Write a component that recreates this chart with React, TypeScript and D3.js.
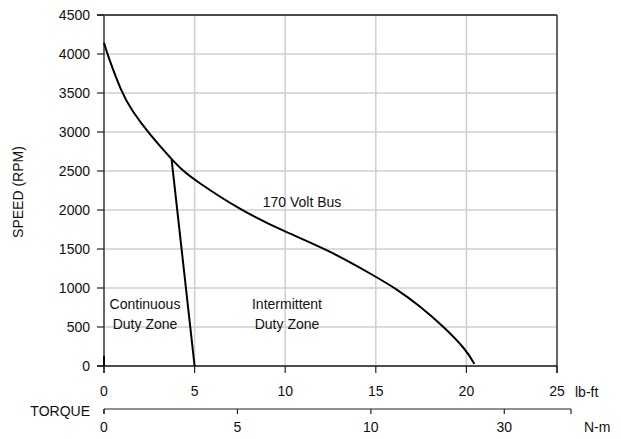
import React from "react";
import * as d3 from "d3";

const speedTicks = [0, 500, 1000, 1500, 2000, 2500, 3000, 3500, 4000, 4500];
const lbftTicks = [0, 5, 10, 15, 20, 25];
const nmTicks = [0, 10, 20, 30];
const nmTickLabels = ["0", "5", "10", "30"];

const curveTorque = [0, 0.18, 0.98, 1.52, 2.44, 3.73, 4.37, 5, 7.5, 10, 12.47, 15, 16.06, 17.44, 18.76, 20, 20.44];
const curveSpeed = [4145, 4000, 3500, 3282, 2990, 2650, 2500, 2385, 2000, 1718, 1478, 1145, 1000, 769, 500, 205, 26];

const contTorque = [3.73, 5.0];
const contSpeed = [2650, 0];

const W = 621, H = 439;
const L = 104, R = 557, T = 15, B = 366;
const FONT = "'Liberation Sans', Arial, sans-serif";

export default function App() {
  const x = d3.scaleLinear().domain([0, 25]).range([L, R]);
  const y = d3.scaleLinear().domain([0, 4500]).range([B, T]);
  const xn = d3.scaleLinear().domain([0, 35]).range([L, 571]);
  const nmY = 409;

  const pts: [number, number][] = curveTorque.map((t, i) => [t, curveSpeed[i]]);
  const line = d3.line<[number, number]>().x(d => x(d[0])).y(d => y(d[1])).curve(d3.curveBasis);
  const cont: [number, number][] = contTorque.map((t, i) => [t, contSpeed[i]]);
  const line2 = d3.line<[number, number]>().x(d => x(d[0])).y(d => y(d[1]));

  return (
    <svg width={W} height={H} style={{ position: "absolute", left: 0, top: 0, background: "#fff" }} fontFamily={FONT} fontSize={14}>
      <rect x={0} y={0} width={W} height={H} fill="#fff" />
      {speedTicks.slice(1, -1).map(v => (
        <line key={"gy" + v} x1={L} x2={R} y1={y(v)} y2={y(v)} stroke="#cfcfcf" strokeWidth={1.5} />
      ))}
      {lbftTicks.slice(1, -1).map(v => (
        <line key={"gx" + v} x1={x(v)} x2={x(v)} y1={T} y2={B} stroke="#cfcfcf" strokeWidth={1.5} />
      ))}
      <line x1={L - 7} x2={R} y1={T} y2={T} stroke="#111" strokeWidth={1.5} />
      <line x1={L} x2={L} y1={T} y2={B + 7} stroke="#333" strokeWidth={1.5} />
      <line x1={R} x2={R} y1={T} y2={B + 7} stroke="#333" strokeWidth={1.5} />
      <line x1={L - 7} x2={R} y1={B} y2={B} stroke="#111" strokeWidth={1.5} />
      {speedTicks.map(v => (
        <g key={"ty" + v}>
          <line x1={L - 7} x2={L} y1={y(v)} y2={y(v)} stroke="#222" strokeWidth={1.2} />
          <text x={L - 14} y={y(v)} dy="0.35em" textAnchor="end" fill="#111">{v}</text>
        </g>
      ))}
      {lbftTicks.map(v => (
        <g key={"tx" + v}>
          <line x1={x(v)} x2={x(v)} y1={B} y2={B + 7} stroke="#222" strokeWidth={1.2} />
          <text x={x(v)} y={391} dy="0.35em" textAnchor="middle" fill="#111">{v}</text>
        </g>
      ))}
      <text x={575} y={392} dy="0.35em" fill="#111">lb-ft</text>
      <line x1={xn(0)} x2={xn(35)} y1={nmY} y2={nmY} stroke="#222" strokeWidth={1.2} />
      {[0, 35].map(v => (
        <line key={"ne" + v} x1={xn(v)} x2={xn(v)} y1={nmY} y2={nmY + 5} stroke="#222" strokeWidth={1.2} />
      ))}
      {nmTicks.map((v, i) => (
        <g key={"tn" + v}>
          <line x1={xn(v)} x2={xn(v)} y1={nmY} y2={nmY + 5} stroke="#222" strokeWidth={1.2} />
          <text x={xn(v)} y={427} dy="0.35em" textAnchor="middle" fill="#111">{nmTickLabels[i]}</text>
        </g>
      ))}
      <text x={584} y={427} dy="0.35em" fill="#111">N-m</text>
      <text x={90} y={411} dy="0.35em" textAnchor="end" fill="#111">TORQUE</text>
      <text transform={`translate(18,${192}) rotate(-90)`} textAnchor="middle" dy="0.35em" fill="#111">SPEED (RPM)</text>
      <path d={line(pts) || ""} fill="none" stroke="#000" strokeWidth={2} />
      <path d={line2(cont) || ""} fill="none" stroke="#000" strokeWidth={2} />
      <line x1={L} x2={L} y1={356} y2={B} stroke="#000" strokeWidth={2} />
      <text x={302} y={202} dy="0.35em" textAnchor="middle" fill="#111">170 Volt Bus</text>
      <text x={145} y={304} dy="0.35em" textAnchor="middle" fill="#111">Continuous</text>
      <text x={145} y={324} dy="0.35em" textAnchor="middle" fill="#111">Duty Zone</text>
      <text x={287} y={304} dy="0.35em" textAnchor="middle" fill="#111">Intermittent</text>
      <text x={287} y={324} dy="0.35em" textAnchor="middle" fill="#111">Duty Zone</text>
    </svg>
  );
}
